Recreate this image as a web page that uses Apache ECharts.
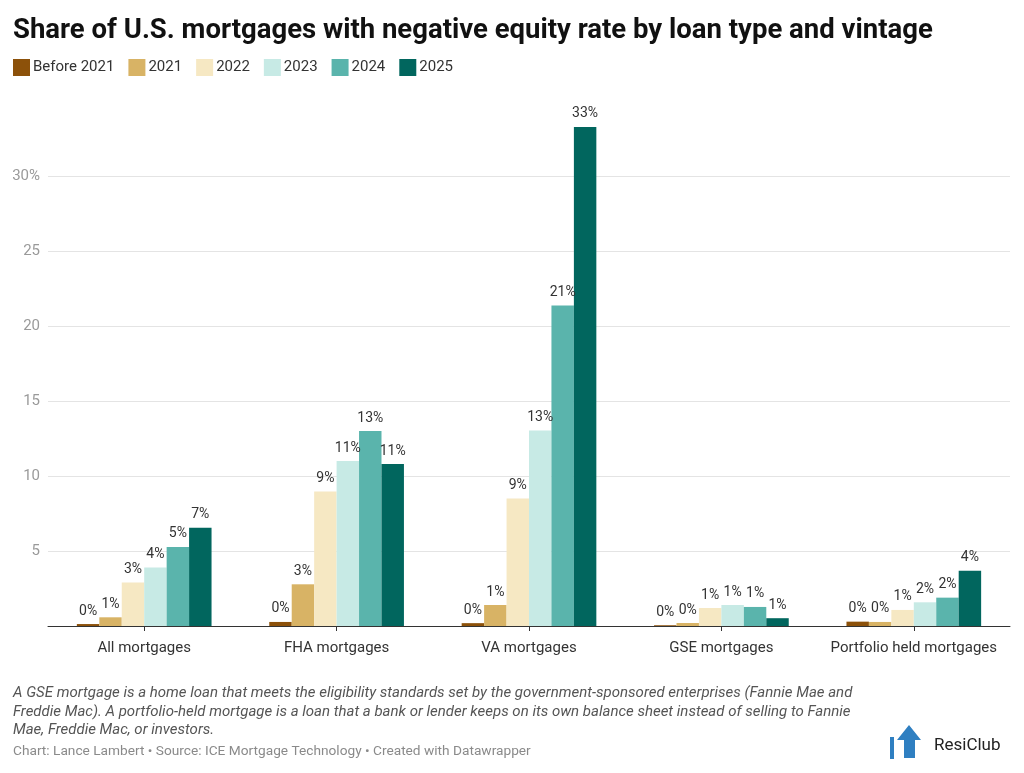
<!DOCTYPE html>
<html><head><meta charset="utf-8">
<script src="https://cdn.jsdelivr.net/npm/echarts@6/dist/echarts.min.js"></script>
<style>html,body{margin:0;padding:0;background:#fff}#c{width:1024px;height:773px}</style>
</head><body><div id="c"></div>
<script>
var categories = ["All mortgages","FHA mortgages","VA mortgages","GSE mortgages","Portfolio held mortgages"];
var seriesNames = ["Before 2021","2021","2022","2023","2024","2025"];
var before2021 = [0.13, 0.27, 0.19, 0.05, 0.29];
var y2021 = [0.58, 2.78, 1.40, 0.20, 0.27];
var y2022 = [2.90, 8.97, 8.50, 1.20, 1.07];
var y2023 = [3.90, 11.00, 13.03, 1.40, 1.58];
var y2024 = [5.27, 13.00, 21.36, 1.27, 1.89];
var y2025 = [6.55, 10.80, 33.27, 0.52, 3.69];
var yTicks = [0, 5, 10, 15, 20, 25, 30, 35];
var colors = ["#8c510a","#d8b365","#f6e8c3","#c7eae5","#5ab4ac","#01665e"];
var seriesData = [before2021, y2021, y2022, y2023, y2024, y2025];

var chart = echarts.init(document.getElementById('c'));
var FONT = 'Roboto, "Noto Sans", sans-serif';
var series = seriesNames.map(function(n, i){
  return {
    name: n, type: 'bar', data: seriesData[i],
    barGap: '0%', barCategoryGap: '30%',
    itemStyle: {color: colors[i]},
    label: {show: true, position: 'top', distance: 6, color: '#333', fontSize: 14, fontFamily: FONT,
      formatter: function(p){ return Math.round(p.value) + '%'; }}
  };
});
chart.setOption({
  animation: false,
  color: colors,
  textStyle: {fontFamily: FONT},
  title: {text: 'Share of U.S. mortgages with negative equity rate by loan type and vintage',
    left: 8, top: 12, textStyle: {fontSize: 27.5, fontWeight: 'bold', color: '#111', fontFamily: FONT}},
  legend: {left: 8, top: 54, itemWidth: 17, itemHeight: 17, itemGap: 14, icon: 'rect',
    textStyle: {fontSize: 15, color: '#333', fontFamily: FONT, padding: [0,0,0,-2]}, data: seriesNames},
  grid: {left: 48, right: 14, top: 101, bottom: 147},
  xAxis: {type: 'category', data: categories,
    axisLine: {lineStyle: {color: '#333', width: 1}},
    axisTick: {show: true, alignWithLabel: true, length: 5, lineStyle: {color: '#333'}},
    axisLabel: {fontSize: 15, color: '#333', margin: 15, fontFamily: FONT, interval: 0}},
  yAxis: {type: 'value', min: 0, max: 35, interval: 5,
    axisLine: {show: false}, axisTick: {show: false},
    axisLabel: {fontSize: 15, color: '#9a9a9a', margin: 8, fontFamily: FONT,
      formatter: function(v){ if (v === 0 || v === 35) return ''; return v === 30 ? '30%' : String(v); }},
    splitLine: {lineStyle: {color: ['transparent','#e4e4e4','#e4e4e4','#e4e4e4','#e4e4e4','#e4e4e4','#e4e4e4','transparent'], width: 1}}},
  series: series,
  graphic: [
    {type: 'text', left: 13, top: 684, style: {
      text: 'A GSE mortgage is a home loan that meets the eligibility standards set by the government-sponsored enterprises (Fannie Mae and\nFreddie Mac). A portfolio-held mortgage is a loan that a bank or lender keeps on its own balance sheet instead of selling to Fannie\nMae, Freddie Mac, or investors.',
      font: 'italic 15px ' + FONT, fill: '#555', lineHeight: 18.5}},
    {type: 'text', left: 13, top: 745, style: {
      text: 'Chart: Lance Lambert \u2022 Source: ICE Mortgage Technology \u2022 Created with Datawrapper',
      font: '13.7px ' + FONT, fill: '#8a8a8a'}},
    {type: 'polygon', shape: {points: [[897,740],[909,725],[921,740],[915,740],[915,758],[904,758],[904,740]]}, style: {fill: '#2f7fc1'}},
    {type: 'rect', shape: {x: 890, y: 737, width: 4, height: 22}, style: {fill: '#2f7fc1'}},
    {type: 'text', left: 934, top: 737, style: {text: 'ResiClub', font: '17px ' + FONT, fill: '#222'}}
  ]
});
</script></body></html>
